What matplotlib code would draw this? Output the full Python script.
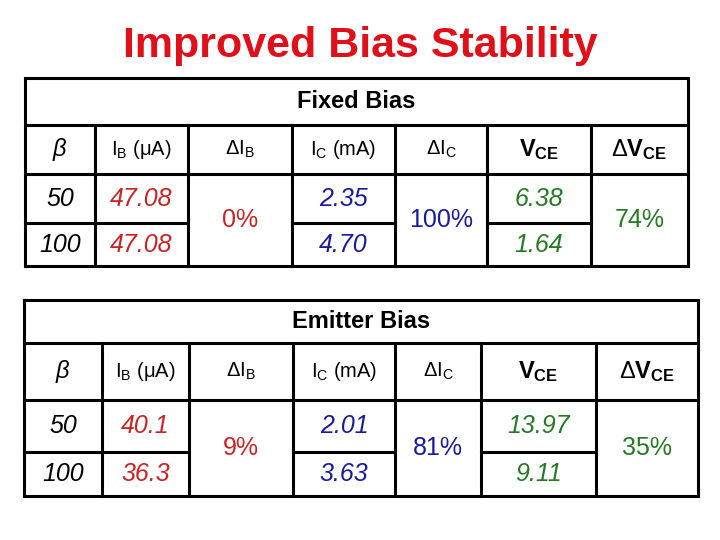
import matplotlib
matplotlib.use("Agg")
import matplotlib.pyplot as plt

plt.rcParams['font.family'] = 'Liberation Sans'
plt.rcParams['mathtext.fontset'] = 'custom'
plt.rcParams['mathtext.rm'] = 'Liberation Sans'
plt.rcParams['mathtext.it'] = 'Liberation Sans:italic'
plt.rcParams['mathtext.bf'] = 'Liberation Sans:bold'

headers = [r'$\beta$', r'$\mathregular{I_B}$ (μA)', r'Δ$\mathregular{I_B}$',
           r'$\mathregular{I_C}$ (mA)', r'Δ$\mathregular{I_C}$',
           r'$\mathbf{V_{CE}}$', r'Δ$\mathbf{V_{CE}}$']
beta = ['50', '100']

fixed_ib = ['47.08', '47.08']
fixed_dib = '0%'
fixed_ic = ['2.35', '4.70']
fixed_dic = '100%'
fixed_vce = ['6.38', '1.64']
fixed_dvce = '74%'

emit_ib = ['40.1', '36.3']
emit_dib = '9%'
emit_ic = ['2.01', '3.63']
emit_dic = '81%'
emit_vce = ['13.97', '9.11']
emit_dvce = '35%'

red, blue, green = '#cc2222', '#1a1aa0', '#237a23'

fig = plt.figure(figsize=(7.2, 5.4), dpi=100)
ax = fig.add_axes([0, 0, 1, 1])
ax.set_xlim(0, 720)
ax.set_ylim(540, 0)
ax.axis('off')

ax.text(360, 46, 'Improved Bias Stability', color='#e0101a', fontsize=31,
        fontweight='bold', ha='center', va='center')


def line(x0, y0, x1, y1):
    ax.plot([x0, x1], [y0, y1], color='black', lw=2.2, solid_capstyle='projecting')


def table(title, cols, ys, ib, dib, ic, dic, vce, dvce):
    top, hdr, hrow, mid, bot = ys
    left, right = cols[0], cols[-1]
    for y in (top, hdr, hrow, bot):
        line(left, y, right, y)
    line(left, top, left, bot)
    line(right, top, right, bot)
    for x in cols[1:-1]:
        line(x, hdr, x, bot)
    # middle line only in the split columns
    for i in (0, 1, 3, 5):
        line(cols[i], mid, cols[i + 1], mid)
    cx = [(cols[i] + cols[i + 1]) / 2 for i in range(7)]
    ax.text((left + right) / 2, (top + hdr) / 2, title, fontsize=17,
            fontweight='bold', ha='center', va='center')
    for i, h in enumerate(headers):
        fs = 17 if i in (0, 5, 6) else 14.5
        ax.text(cx[i], (hdr + hrow) / 2, h, fontsize=fs, ha='center', va='center')
    r1, r2 = (hrow + mid) / 2, (mid + bot) / 2
    rc = (hrow + bot) / 2
    for r, y in enumerate((r1, r2)):
        ax.text(cx[0], y, beta[r], fontsize=18, style='italic', ha='center', va='center')
        ax.text(cx[1], y, ib[r], fontsize=18, style='italic', color=red, ha='center', va='center')
        ax.text(cx[3], y, ic[r], fontsize=18, style='italic', color=blue, ha='center', va='center')
        ax.text(cx[5], y, vce[r], fontsize=18, style='italic', color=green, ha='center', va='center')
    ax.text(cx[2], rc, dib, fontsize=18, color=red, ha='center', va='center')
    ax.text(cx[4], rc, dic, fontsize=18, color=blue, ha='center', va='center')
    ax.text(cx[6], rc, dvce, fontsize=18, color=green, ha='center', va='center')


table('Fixed Bias', [25, 95, 188, 292, 395, 487, 591, 688],
      [78, 125, 174, 223, 266], fixed_ib, fixed_dib, fixed_ic, fixed_dic,
      fixed_vce, fixed_dvce)
table('Emitter Bias', [24, 102, 189, 293, 395, 481, 596, 698],
      [300, 343, 400, 452, 496], emit_ib, emit_dib, emit_ic, emit_dic,
      emit_vce, emit_dvce)

fig.savefig('out.png', dpi=100)
